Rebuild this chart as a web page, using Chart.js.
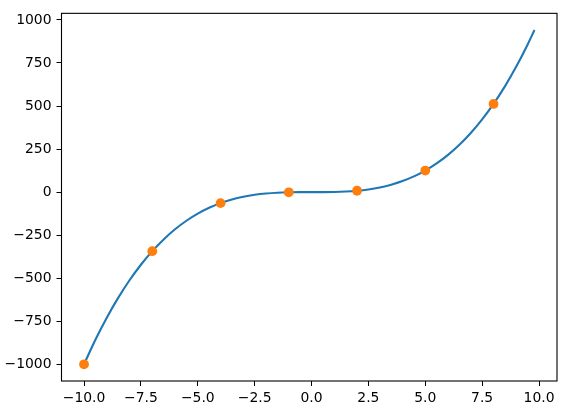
<!DOCTYPE html>
<html>
<head>
<meta charset="utf-8">
<script src="https://cdn.jsdelivr.net/npm/chart.js@4/dist/chart.umd.min.js"></script>
<style>
html,body{margin:0;padding:0;background:#fff;}
#wrap{width:585px;height:417px;position:relative;}
</style>
</head>
<body>
<div id="wrap"><canvas id="c" width="585" height="417"></canvas></div>
<script>
const curveX = [-10, -9.5, -9, -8.5, -8, -7.5, -7, -6.5, -6, -5.5, -5, -4.5, -4, -3.5, -3, -2.5, -2, -1.5, -1, -0.5, 0, 0.5, 1, 1.5, 2, 2.5, 3, 3.5, 4, 4.5, 5, 5.5, 6, 6.5, 7, 7.5, 8, 8.5, 9, 9.5, 9.8];
const curveY = [-1000, -857.4, -729, -614.1, -512, -421.9, -343, -274.6, -216, -166.4, -125, -91.1, -64, -42.9, -27, -15.6, -8, -3.4, -1, -0.1, 0, 0.1, 1, 3.4, 8, 15.6, 27, 42.9, 64, 91.1, 125, 166.4, 216, 274.6, 343, 421.9, 512, 614.1, 729, 857.4, 941.2];
const markX = [-10, -7, -4, -1, 2, 5, 8];
const markY = [-1000, -343, -64, -1, 8, 125, 512];
const xTicks = [-10, -7.5, -5, -2.5, 0, 2.5, 5, 7.5, 10];
const yTicks = [-1000, -750, -500, -250, 0, 250, 500, 750, 1000];

const FONT = {family: 'DejaVu Sans', size: 13.9};
const minus = s => s.replace('-', '\u2212');

const frame = {
  id: 'frame',
  afterDatasetsDraw(chart) {
    const a = chart.chartArea, ctx = chart.ctx;
    ctx.save();
    ctx.strokeStyle = '#000';
    ctx.lineWidth = 1.1;
    ctx.strokeRect(a.left, a.top, a.right - a.left, a.bottom - a.top);
    ctx.restore();
  }
};

new Chart(document.getElementById('c'), {
  type: 'scatter',
  data: {
    datasets: [
      {
        data: markX.map((x, i) => ({x, y: markY[i]})),
        showLine: false,
        pointRadius: 4.9,
        pointBackgroundColor: '#ff7f0e',
        pointBorderWidth: 0,
        pointBorderColor: '#ff7f0e',
        order: 0
      },
      {
        data: curveX.map((x, i) => ({x, y: curveY[i]})),
        showLine: true,
        borderColor: '#1f77b4',
        borderWidth: 2.1,
        pointRadius: 0,
        cubicInterpolationMode: 'monotone',
        fill: false,
        order: 1
      }
    ]
  },
  options: {
    responsive: false,
    animation: false,
    layout: {padding: {left: 0, right: 28, top: 12.5, bottom: 0}},
    plugins: {legend: {display: false}, tooltip: {enabled: false}},
    scales: {
      x: {
        type: 'linear',
        min: -10.99,
        max: 10.79,
        afterBuildTicks: s => { s.ticks = xTicks.map(v => ({value: v})); },
        afterFit: s => { s.height = 36; },
        grid: {drawOnChartArea: false, drawTicks: true, tickLength: 5, color: '#000', lineWidth: 1},
        border: {display: false},
        ticks: {color: '#000', font: FONT, padding: 4, maxRotation: 0, autoSkip: false,
          callback: v => minus(Number(v).toFixed(1))}
      },
      y: {
        type: 'linear',
        min: -1097.06,
        max: 1038.25,
        afterBuildTicks: s => { s.ticks = yTicks.map(v => ({value: v})); },
        afterFit: s => { s.width = 61.5; },
        grid: {drawOnChartArea: false, drawTicks: true, tickLength: 5, color: '#000', lineWidth: 1},
        border: {display: false},
        ticks: {color: '#000', font: FONT, padding: 5, autoSkip: false,
          callback: v => minus(String(v))}
      }
    }
  },
  plugins: [frame]
});
</script>
</body>
</html>
